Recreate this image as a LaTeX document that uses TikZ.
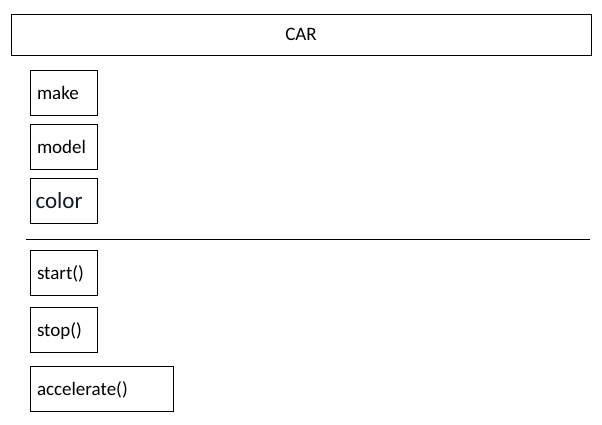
\documentclass[tikz,border=0pt]{standalone}
\usepackage{fontspec}
\setmainfont{Carlito}
\definecolor{navy}{HTML}{0E1A2E}
\begin{document}
\begin{tikzpicture}[x=1pt,y=-1pt,
  member/.style={draw=black, line width=1pt, anchor=north west, inner xsep=6.5pt, inner ysep=0pt,
    minimum height=45pt, align=left, font=\fontsize{19}{22}\selectfont, text depth=0pt},
  title/.style={draw=black, line width=1pt, minimum width=580pt, minimum height=41pt, font=\fontsize{19}{22}\selectfont}]
\useasboundingbox (0,0) rectangle (602,424);
\node[title] (car) at (301,34.5) {CAR};
\node[member, text width=54pt] (make) at (30,70) {make};
\node[member, text width=54pt] (model) at (30,124) {model};
\node[member, font=\fontsize{23}{26}\selectfont, text=navy, inner xsep=5pt, text width=57pt] (color) at (30,178) {color};
\coordinate (sepL) at (26,239);
\coordinate (sepR) at (590,239);
\draw[line width=1pt] (sepL) -- (sepR);
\node[member, text width=54pt] (start) at (30,250) {start()};
\node[member, text width=54pt] (stop) at (30,307) {stop()};
\node[member, text width=130pt] (accel) at (30,366) {accelerate()};
\end{tikzpicture}
\end{document}
